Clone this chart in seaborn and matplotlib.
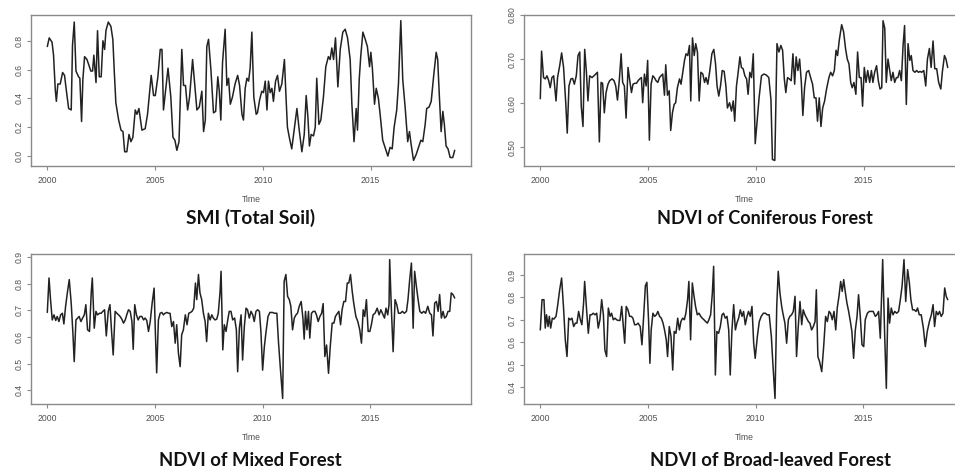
"""
Four R-style monthly time series panels (2000-2018):
soil moisture index and NDVI of three forest types.
"""

import numpy as np
import matplotlib
matplotlib.use("Agg")  # render to file, no GUI needed
import matplotlib.pyplot as plt
import seaborn as sns

START_YEAR = 2000  # all *_T values are years after January 2000
YEAR_TICKS = [2000, 2005, 2010, 2015]

# --- SMI (Total Soil) -------------------------------------------------------
SMI_T = [
    0.00, 0.09, 0.22, 0.29, 0.37, 0.42, 0.49, 0.60, 0.71, 0.80,
    0.88, 0.99, 1.11, 1.17, 1.25, 1.33, 1.45, 1.51, 1.59, 1.65,
    1.73, 1.84, 1.95, 2.02, 2.10, 2.16, 2.26, 2.33, 2.41, 2.50,
    2.58, 2.66, 2.72, 2.83, 2.95, 3.04, 3.11, 3.18, 3.31, 3.42,
    3.51, 3.59, 3.69, 3.79, 3.88, 3.97, 4.08, 4.16, 4.25, 4.39,
    4.54, 4.65, 4.82, 4.93, 5.01, 5.13, 5.24, 5.32, 5.39, 5.60,
    5.73, 5.83, 5.92, 6.01, 6.11, 6.24, 6.32, 6.41, 6.51, 6.60,
    6.74, 6.85, 6.94, 7.05, 7.17, 7.25, 7.33, 7.40, 7.48, 7.59,
    7.71, 7.81, 7.91, 7.98, 8.05, 8.13, 8.25, 8.33, 8.41, 8.49,
    8.59, 8.71, 8.83, 8.92, 9.03, 9.10, 9.18, 9.26, 9.34, 9.41,
    9.49, 9.58, 9.69, 9.75, 9.85, 9.95, 10.03, 10.11, 10.19, 10.26,
    10.34, 10.42, 10.49, 10.59, 10.68, 10.77, 10.88, 11.00, 11.08, 11.14,
    11.24, 11.34, 11.47, 11.58, 11.68, 11.81, 11.92, 12.01, 12.09, 12.16,
    12.24, 12.35, 12.43, 12.50, 12.60, 12.69, 12.81, 12.92, 13.04, 13.12,
    13.20, 13.28, 13.37, 13.48, 13.59, 13.71, 13.82, 13.93, 14.05, 14.13,
    14.23, 14.33, 14.39, 14.47, 14.54, 14.64, 14.75, 14.85, 14.95, 15.01,
    15.08, 15.18, 15.26, 15.36, 15.44, 15.56, 15.67, 15.80, 15.90, 16.00,
    16.09, 16.21, 16.29, 16.40, 16.49, 16.60, 16.72, 16.80, 16.88, 16.99,
    17.11, 17.22, 17.33, 17.42, 17.53, 17.60, 17.71, 17.81, 17.92, 18.04,
    18.11, 18.19, 18.27, 18.35, 18.42, 18.50, 18.59, 18.69, 18.81, 18.90,
]
SMI = [
    0.76, 0.82, 0.79, 0.70, 0.46, 0.38, 0.50, 0.50, 0.58, 0.56,
    0.46, 0.33, 0.32, 0.77, 0.93, 0.59, 0.55, 0.54, 0.24, 0.53,
    0.69, 0.67, 0.62, 0.59, 0.59, 0.70, 0.51, 0.87, 0.55, 0.55,
    0.80, 0.74, 0.87, 0.93, 0.90, 0.81, 0.58, 0.37, 0.25, 0.18,
    0.17, 0.03, 0.03, 0.15, 0.10, 0.13, 0.32, 0.29, 0.33, 0.18,
    0.19, 0.29, 0.56, 0.42, 0.42, 0.55, 0.74, 0.74, 0.32, 0.61,
    0.41, 0.13, 0.11, 0.04, 0.10, 0.74, 0.49, 0.49, 0.32, 0.41,
    0.67, 0.48, 0.32, 0.34, 0.45, 0.17, 0.25, 0.76, 0.81, 0.60,
    0.30, 0.31, 0.55, 0.45, 0.25, 0.65, 0.88, 0.49, 0.54, 0.36,
    0.41, 0.50, 0.56, 0.49, 0.29, 0.25, 0.47, 0.54, 0.52, 0.61,
    0.86, 0.41, 0.29, 0.30, 0.39, 0.45, 0.44, 0.52, 0.32, 0.52,
    0.44, 0.47, 0.38, 0.52, 0.56, 0.45, 0.50, 0.67, 0.39, 0.20,
    0.12, 0.05, 0.20, 0.33, 0.19, 0.03, 0.15, 0.42, 0.27, 0.07,
    0.15, 0.14, 0.20, 0.54, 0.22, 0.25, 0.41, 0.62, 0.69, 0.67,
    0.75, 0.67, 0.82, 0.48, 0.74, 0.86, 0.88, 0.82, 0.67, 0.36,
    0.10, 0.33, 0.18, 0.53, 0.69, 0.86, 0.81, 0.76, 0.62, 0.72,
    0.61, 0.36, 0.47, 0.40, 0.29, 0.11, 0.06, 0.00, 0.06, 0.05,
    0.20, 0.32, 0.50, 0.94, 0.53, 0.34, 0.10, 0.17, 0.08, -0.03,
    0.01, 0.06, 0.11, 0.10, 0.22, 0.33, 0.34, 0.38, 0.55, 0.72,
    0.67, 0.41, 0.17, 0.31, 0.22, 0.07, 0.05, -0.01, -0.01, 0.04,
]

# --- NDVI of Coniferous Forest ---------------------------------------------
CONIF_T = [
    0.00, 0.06, 0.15, 0.23, 0.31, 0.39, 0.46, 0.54, 0.62, 0.73,
    0.80, 0.90, 0.99, 1.08, 1.18, 1.25, 1.33, 1.42, 1.50, 1.58,
    1.67, 1.75, 1.83, 1.90, 1.98, 2.06, 2.14, 2.21, 2.29, 2.40,
    2.49, 2.57, 2.65, 2.74, 2.82, 2.89, 2.97, 3.05, 3.14, 3.22,
    3.33, 3.42, 3.50, 3.58, 3.67, 3.75, 3.82, 3.90, 3.98, 4.07,
    4.15, 4.23, 4.30, 4.38, 4.46, 4.54, 4.61, 4.69, 4.75, 4.83,
    4.91, 4.98, 5.06, 5.14, 5.22, 5.29, 5.37, 5.45, 5.53, 5.60,
    5.68, 5.76, 5.82, 5.90, 5.98, 6.05, 6.13, 6.21, 6.28, 6.36,
    6.46, 6.53, 6.61, 6.69, 6.76, 6.84, 6.92, 6.98, 7.06, 7.14,
    7.21, 7.29, 7.37, 7.45, 7.54, 7.62, 7.69, 7.77, 7.86, 7.96,
    8.05, 8.13, 8.20, 8.28, 8.36, 8.44, 8.53, 8.61, 8.68, 8.78,
    8.87, 8.95, 9.02, 9.10, 9.18, 9.26, 9.33, 9.41, 9.49, 9.57,
    9.64, 9.72, 9.80, 9.88, 9.97, 10.06, 10.15, 10.26, 10.37, 10.48,
    10.60, 10.70, 10.77, 10.88, 10.98, 11.07, 11.16, 11.24, 11.32, 11.39,
    11.47, 11.55, 11.64, 11.72, 11.80, 11.87, 11.95, 12.03, 12.11, 12.18,
    12.26, 12.35, 12.45, 12.54, 12.63, 12.71, 12.79, 12.86, 12.94, 13.02,
    13.10, 13.19, 13.28, 13.39, 13.47, 13.56, 13.64, 13.72, 13.79, 13.87,
    13.98, 14.07, 14.16, 14.24, 14.32, 14.40, 14.47, 14.55, 14.64, 14.72,
    14.80, 14.88, 14.95, 15.03, 15.11, 15.19, 15.28, 15.36, 15.43, 15.51,
    15.60, 15.68, 15.76, 15.84, 15.90, 15.98, 16.05, 16.13, 16.21, 16.28,
    16.36, 16.44, 16.52, 16.59, 16.67, 16.75, 16.83, 16.90, 16.98, 17.06,
    17.14, 17.21, 17.29, 17.38, 17.46, 17.54, 17.62, 17.69, 17.79, 17.88,
    17.96, 18.05, 18.13, 18.22, 18.30, 18.39, 18.48, 18.58, 18.65, 18.75,
    18.82, 18.90,
]
CONIF = [
    0.610, 0.718, 0.658, 0.655, 0.662, 0.651, 0.635, 0.658, 0.662, 0.605,
    0.658, 0.685, 0.714, 0.681, 0.601, 0.532, 0.639, 0.655, 0.656, 0.643,
    0.662, 0.708, 0.716, 0.593, 0.547, 0.722, 0.670, 0.605, 0.662, 0.658,
    0.662, 0.666, 0.670, 0.512, 0.647, 0.645, 0.578, 0.624, 0.643, 0.651,
    0.655, 0.651, 0.639, 0.607, 0.655, 0.712, 0.647, 0.639, 0.566, 0.681,
    0.651, 0.624, 0.643, 0.645, 0.645, 0.651, 0.655, 0.658, 0.601, 0.666,
    0.639, 0.697, 0.516, 0.643, 0.662, 0.658, 0.651, 0.647, 0.658, 0.662,
    0.666, 0.618, 0.687, 0.618, 0.628, 0.538, 0.578, 0.597, 0.601, 0.635,
    0.655, 0.643, 0.670, 0.697, 0.712, 0.708, 0.731, 0.605, 0.748, 0.708,
    0.735, 0.716, 0.605, 0.670, 0.666, 0.647, 0.658, 0.643, 0.672, 0.712,
    0.722, 0.689, 0.639, 0.616, 0.639, 0.674, 0.672, 0.639, 0.589, 0.601,
    0.582, 0.605, 0.559, 0.639, 0.670, 0.705, 0.681, 0.678, 0.662, 0.655,
    0.620, 0.670, 0.658, 0.712, 0.508, 0.559, 0.612, 0.662, 0.666, 0.664,
    0.658, 0.608, 0.472, 0.470, 0.735, 0.716, 0.731, 0.720, 0.655, 0.624,
    0.658, 0.655, 0.651, 0.712, 0.643, 0.705, 0.674, 0.700, 0.647, 0.572,
    0.635, 0.670, 0.674, 0.658, 0.643, 0.612, 0.612, 0.559, 0.612, 0.547,
    0.589, 0.605, 0.632, 0.658, 0.670, 0.662, 0.674, 0.720, 0.708, 0.743,
    0.778, 0.762, 0.724, 0.700, 0.689, 0.647, 0.635, 0.647, 0.620, 0.716,
    0.658, 0.658, 0.593, 0.681, 0.647, 0.674, 0.647, 0.674, 0.647, 0.670,
    0.685, 0.651, 0.632, 0.635, 0.787, 0.770, 0.647, 0.700, 0.674, 0.651,
    0.670, 0.647, 0.658, 0.658, 0.674, 0.651, 0.731, 0.776, 0.597, 0.735,
    0.697, 0.708, 0.674, 0.670, 0.674, 0.670, 0.672, 0.670, 0.674, 0.639,
    0.700, 0.724, 0.681, 0.741, 0.678, 0.678, 0.647, 0.632, 0.670, 0.708,
    0.700, 0.681,
]

# --- NDVI of Mixed Forest ---------------------------------------------------
MIXED_T = [
    0.00, 0.08, 0.15, 0.23, 0.31, 0.39, 0.46, 0.54, 0.62, 0.70,
    0.77, 0.85, 0.93, 1.02, 1.11, 1.19, 1.25, 1.33, 1.41, 1.48,
    1.56, 1.64, 1.72, 1.79, 1.87, 1.96, 2.04, 2.09, 2.18, 2.26,
    2.33, 2.43, 2.50, 2.58, 2.66, 2.74, 2.83, 2.91, 2.98, 3.06,
    3.15, 3.23, 3.31, 3.38, 3.46, 3.54, 3.62, 3.69, 3.77, 3.85,
    3.93, 3.99, 4.06, 4.14, 4.22, 4.30, 4.39, 4.47, 4.54, 4.62,
    4.70, 4.78, 4.87, 4.96, 5.02, 5.08, 5.16, 5.24, 5.32, 5.39,
    5.47, 5.55, 5.63, 5.70, 5.78, 5.86, 5.94, 6.01, 6.09, 6.17,
    6.24, 6.32, 6.41, 6.49, 6.57, 6.65, 6.72, 6.80, 6.88, 6.94,
    7.02, 7.09, 7.17, 7.25, 7.33, 7.40, 7.48, 7.56, 7.64, 7.71,
    7.79, 7.87, 7.94, 8.02, 8.07, 8.15, 8.22, 8.30, 8.38, 8.45,
    8.53, 8.61, 8.70, 8.78, 8.84, 8.92, 9.00, 9.07, 9.15, 9.23,
    9.30, 9.38, 9.46, 9.54, 9.61, 9.69, 9.77, 9.85, 9.92, 10.00,
    10.08, 10.15, 10.25, 10.34, 10.45, 10.56, 10.66, 10.74, 10.83, 10.93,
    11.00, 11.08, 11.16, 11.24, 11.31, 11.39, 11.47, 11.55, 11.62, 11.70,
    11.79, 11.87, 11.93, 11.99, 12.06, 12.13, 12.19, 12.27, 12.35, 12.43,
    12.50, 12.58, 12.66, 12.74, 12.81, 12.89, 12.97, 13.06, 13.14, 13.23,
    13.31, 13.38, 13.46, 13.54, 13.62, 13.69, 13.77, 13.85, 13.93, 14.00,
    14.08, 14.16, 14.23, 14.33, 14.42, 14.51, 14.59, 14.67, 14.74, 14.82,
    14.90, 14.98, 15.05, 15.13, 15.22, 15.32, 15.41, 15.49, 15.56, 15.66,
    15.73, 15.81, 15.87, 15.90, 15.98, 16.06, 16.15, 16.23, 16.31, 16.40,
    16.49, 16.58, 16.68, 16.75, 16.83, 16.91, 16.99, 17.06, 17.14, 17.22,
    17.30, 17.39, 17.48, 17.57, 17.67, 17.76, 17.84, 17.91, 17.99, 18.07,
    18.15, 18.22, 18.30, 18.38, 18.45, 18.53, 18.61, 18.69, 18.76, 18.84,
    18.92,
]
MIXED = [
    0.692, 0.821, 0.740, 0.664, 0.683, 0.662, 0.677, 0.658, 0.683, 0.689,
    0.649, 0.715, 0.765, 0.815, 0.727, 0.614, 0.508, 0.664, 0.671, 0.677,
    0.658, 0.671, 0.683, 0.721, 0.627, 0.621, 0.765, 0.821, 0.633, 0.696,
    0.683, 0.689, 0.689, 0.696, 0.702, 0.604, 0.696, 0.721, 0.627, 0.533,
    0.696, 0.689, 0.683, 0.677, 0.667, 0.652, 0.664, 0.683, 0.702, 0.696,
    0.658, 0.554, 0.721, 0.683, 0.664, 0.677, 0.677, 0.664, 0.671, 0.662,
    0.621, 0.658, 0.727, 0.783, 0.614, 0.466, 0.664, 0.689, 0.692, 0.683,
    0.689, 0.692, 0.689, 0.689, 0.639, 0.658, 0.577, 0.646, 0.539, 0.489,
    0.608, 0.627, 0.683, 0.646, 0.689, 0.692, 0.696, 0.708, 0.802, 0.740,
    0.834, 0.765, 0.740, 0.689, 0.658, 0.583, 0.689, 0.664, 0.683, 0.671,
    0.664, 0.667, 0.689, 0.765, 0.846, 0.552, 0.646, 0.621, 0.664, 0.696,
    0.696, 0.664, 0.671, 0.627, 0.470, 0.633, 0.683, 0.514, 0.639, 0.708,
    0.702, 0.671, 0.696, 0.683, 0.658, 0.696, 0.702, 0.696, 0.621, 0.476,
    0.564, 0.614, 0.677, 0.692, 0.692, 0.689, 0.689, 0.577, 0.476, 0.370,
    0.809, 0.834, 0.752, 0.740, 0.715, 0.627, 0.671, 0.683, 0.689, 0.715,
    0.733, 0.671, 0.592, 0.696, 0.627, 0.696, 0.596, 0.689, 0.696, 0.696,
    0.683, 0.658, 0.677, 0.689, 0.725, 0.527, 0.570, 0.464, 0.564, 0.652,
    0.652, 0.677, 0.687, 0.696, 0.646, 0.702, 0.733, 0.733, 0.802, 0.802,
    0.834, 0.771, 0.727, 0.677, 0.658, 0.627, 0.577, 0.702, 0.677, 0.740,
    0.621, 0.621, 0.646, 0.683, 0.689, 0.708, 0.683, 0.702, 0.689, 0.671,
    0.708, 0.683, 0.721, 0.890, 0.702, 0.545, 0.740, 0.721, 0.689, 0.689,
    0.696, 0.689, 0.696, 0.740, 0.815, 0.877, 0.633, 0.846, 0.790, 0.740,
    0.696, 0.689, 0.696, 0.689, 0.715, 0.689, 0.683, 0.604, 0.727, 0.733,
    0.696, 0.759, 0.671, 0.696, 0.671, 0.677, 0.696, 0.696, 0.765, 0.759,
    0.746,
]

# --- NDVI of Broad-leaved Forest ---------------------------------------------
BROAD_T = [
    0.00, 0.08, 0.17, 0.23, 0.29, 0.36, 0.42, 0.48, 0.56, 0.63,
    0.73, 0.80, 0.90, 0.99, 1.08, 1.16, 1.24, 1.32, 1.39, 1.47,
    1.55, 1.63, 1.70, 1.78, 1.86, 1.93, 2.01, 2.06, 2.15, 2.23,
    2.31, 2.38, 2.46, 2.54, 2.62, 2.69, 2.77, 2.85, 2.93, 3.00,
    3.08, 3.16, 3.24, 3.31, 3.39, 3.47, 3.54, 3.62, 3.70, 3.78,
    3.85, 3.92, 3.99, 4.07, 4.15, 4.23, 4.30, 4.38, 4.46, 4.54,
    4.64, 4.72, 4.80, 4.88, 4.95, 5.03, 5.09, 5.15, 5.23, 5.31,
    5.39, 5.46, 5.54, 5.62, 5.70, 5.77, 5.85, 5.91, 5.99, 6.07,
    6.15, 6.22, 6.30, 6.38, 6.46, 6.53, 6.61, 6.69, 6.76, 6.84,
    6.90, 6.98, 7.06, 7.14, 7.21, 7.29, 7.37, 7.45, 7.52, 7.60,
    7.68, 7.76, 7.83, 7.91, 7.99, 8.05, 8.13, 8.20, 8.28, 8.36,
    8.44, 8.51, 8.59, 8.67, 8.75, 8.82, 8.90, 8.98, 9.06, 9.13,
    9.21, 9.29, 9.37, 9.44, 9.52, 9.60, 9.67, 9.75, 9.83, 9.91,
    9.98, 10.08, 10.17, 10.26, 10.36, 10.45, 10.54, 10.63, 10.73, 10.80,
    10.90, 10.98, 11.05, 11.13, 11.21, 11.28, 11.36, 11.44, 11.52, 11.59,
    11.67, 11.75, 11.83, 11.90, 11.98, 12.06, 12.14, 12.21, 12.29, 12.37,
    12.45, 12.52, 12.60, 12.68, 12.76, 12.82, 12.89, 12.97, 13.07, 13.16,
    13.25, 13.33, 13.41, 13.48, 13.56, 13.64, 13.72, 13.79, 13.87, 13.95,
    14.02, 14.09, 14.16, 14.24, 14.32, 14.40, 14.47, 14.55, 14.63, 14.71,
    14.78, 14.86, 14.94, 15.02, 15.09, 15.19, 15.28, 15.37, 15.46, 15.56,
    15.63, 15.71, 15.79, 15.90, 15.99, 16.07, 16.15, 16.22, 16.30, 16.38,
    16.46, 16.55, 16.64, 16.72, 16.80, 16.89, 16.97, 17.06, 17.14, 17.21,
    17.29, 17.37, 17.45, 17.52, 17.60, 17.69, 17.79, 17.88, 17.97, 18.07,
    18.16, 18.24, 18.31, 18.39, 18.47, 18.54, 18.62, 18.70, 18.78, 18.85,
    18.92,
]
BROAD = [
    0.655, 0.789, 0.789, 0.663, 0.722, 0.670, 0.715, 0.663, 0.707, 0.703,
    0.715, 0.759, 0.833, 0.885, 0.752, 0.611, 0.537, 0.707, 0.700, 0.707,
    0.670, 0.685, 0.685, 0.737, 0.700, 0.678, 0.774, 0.870, 0.744, 0.640,
    0.722, 0.722, 0.729, 0.722, 0.729, 0.663, 0.700, 0.789, 0.722, 0.566,
    0.537, 0.752, 0.715, 0.729, 0.700, 0.707, 0.700, 0.697, 0.697, 0.759,
    0.678, 0.596, 0.759, 0.744, 0.715, 0.715, 0.707, 0.678, 0.678, 0.685,
    0.670, 0.589, 0.715, 0.851, 0.866, 0.692, 0.507, 0.655, 0.729, 0.715,
    0.722, 0.737, 0.715, 0.707, 0.685, 0.655, 0.611, 0.537, 0.670, 0.626,
    0.477, 0.648, 0.640, 0.707, 0.655, 0.692, 0.707, 0.700, 0.729, 0.789,
    0.870, 0.611, 0.863, 0.804, 0.759, 0.722, 0.729, 0.715, 0.707, 0.700,
    0.692, 0.685, 0.700, 0.722, 0.818, 0.937, 0.455, 0.648, 0.640, 0.670,
    0.722, 0.729, 0.707, 0.715, 0.655, 0.455, 0.655, 0.767, 0.655, 0.685,
    0.707, 0.744, 0.715, 0.737, 0.678, 0.715, 0.737, 0.715, 0.759, 0.596,
    0.529, 0.626, 0.692, 0.715, 0.729, 0.729, 0.722, 0.722, 0.626, 0.507,
    0.351, 0.759, 0.915, 0.818, 0.759, 0.722, 0.685, 0.596, 0.700, 0.715,
    0.722, 0.737, 0.804, 0.537, 0.670, 0.781, 0.678, 0.744, 0.722, 0.707,
    0.692, 0.685, 0.655, 0.670, 0.692, 0.833, 0.537, 0.514, 0.470, 0.581,
    0.715, 0.692, 0.737, 0.729, 0.700, 0.737, 0.655, 0.752, 0.804, 0.870,
    0.826, 0.878, 0.826, 0.774, 0.737, 0.692, 0.648, 0.529, 0.655, 0.715,
    0.811, 0.715, 0.589, 0.581, 0.700, 0.729, 0.737, 0.737, 0.737, 0.715,
    0.722, 0.737, 0.618, 0.967, 0.640, 0.396, 0.796, 0.685, 0.752, 0.722,
    0.737, 0.729, 0.737, 0.789, 0.848, 0.967, 0.781, 0.922, 0.863, 0.789,
    0.744, 0.744, 0.737, 0.752, 0.722, 0.722, 0.663, 0.581, 0.648, 0.692,
    0.722, 0.767, 0.670, 0.737, 0.722, 0.737, 0.715, 0.729, 0.841, 0.804,
    0.789,
]

TITLES = ["SMI (Total Soil)", "NDVI of Coniferous Forest",
          "NDVI of Mixed Forest", "NDVI of Broad-leaved Forest"]

sns.set_style("ticks")
plt.rcParams["font.family"] = ["Liberation Sans", "DejaVu Sans"]

LINE_COLOR = "#222222"
FRAME_COLOR = "#8a8a8a"
TEXT_COLOR = "#505050"
TICK_SIZE = 6.2


def r_panel(ax, t, values, yticks, ylabels):
    years = np.asarray(t) + START_YEAR
    vals = np.asarray(values)
    sns.lineplot(x=years, y=vals, ax=ax, color=LINE_COLOR, lw=1.1,
                 estimator=None, sort=False)

    # R default axis style: 4% padding on both axes
    xr = years.max() - years.min()
    yr = vals.max() - vals.min()
    ax.set_xlim(years.min() - 0.04 * xr, years.max() + 0.04 * xr)
    ax.set_ylim(vals.min() - 0.04 * yr, vals.max() + 0.04 * yr)

    ax.set_xticks(YEAR_TICKS)
    ax.set_xticklabels([str(y) for y in YEAR_TICKS])
    ax.set_yticks(yticks)
    ax.set_yticklabels(ylabels)
    for lab in ax.get_yticklabels():
        lab.set_rotation(90)
        lab.set_va("center")

    ax.tick_params(axis="both", length=3, width=0.8, color=FRAME_COLOR,
                   labelsize=TICK_SIZE, labelcolor=TEXT_COLOR)
    ax.tick_params(axis="x", pad=4.5)
    ax.tick_params(axis="y", pad=2.5)
    for spine in ax.spines.values():
        spine.set_visible(True)
        spine.set_color(FRAME_COLOR)
        spine.set_linewidth(1.0)

    ax.set_xlabel("Time", fontsize=TICK_SIZE, color=TEXT_COLOR)
    ax.xaxis.set_label_coords(0.5, -0.19)
    ax.set_ylabel("")
    ax.set_facecolor("white")


def build_figure():
    W, H = 955, 470
    fig = plt.figure(figsize=(W / 100, H / 100), dpi=100)
    fig.patch.set_facecolor("white")

    def add_axes(left, top, right, bottom):
        return fig.add_axes([left / W, 1 - bottom / H,
                             (right - left) / W, (bottom - top) / H])

    ax_smi = add_axes(31, 15, 471, 166)
    ax_con = add_axes(524, 15, 964, 166)
    ax_mix = add_axes(31, 254, 471, 404)
    ax_brd = add_axes(524, 254, 964, 404)

    r_panel(ax_smi, SMI_T, SMI, [0.0, 0.2, 0.4, 0.6, 0.8],
            ["0.0", "0.2", "0.4", "0.6", "0.8"])
    r_panel(ax_con, CONIF_T, CONIF, [0.5, 0.6, 0.7, 0.8],
            ["0.50", "0.60", "0.70", "0.80"])
    r_panel(ax_mix, MIXED_T, MIXED, [0.4, 0.5, 0.6, 0.7, 0.8, 0.9],
            ["0.4", "0.5", "0.6", "0.7", "0.8", "0.9"])
    r_panel(ax_brd, BROAD_T, BROAD, [0.4, 0.5, 0.6, 0.7, 0.8, 0.9],
            ["0.4", "0.5", "0.6", "0.7", "0.8", "0.9"])

    title_pos = [(251, 218), (765, 218), (250, 460), (770, 460)]
    title_size = [13.8, 13.0, 13.3, 13.3]
    for (x, y), size, title in zip(title_pos, title_size, TITLES):
        fig.text(x / W, 1 - y / H, title, ha="center", va="center",
                 fontsize=size, fontweight="bold", color="#111111",
                 family=["Lato", "DejaVu Sans"])

    fig.savefig("out.png", dpi=100, facecolor="white")
    plt.close(fig)


if __name__ == "__main__":
    build_figure()
